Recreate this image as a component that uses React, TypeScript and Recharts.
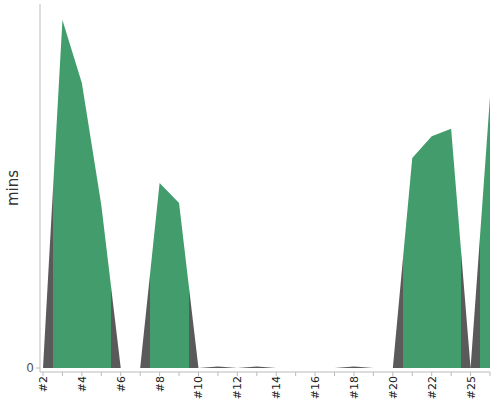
import { AreaChart, Area, XAxis, YAxis } from 'recharts';

const categories = ['#2', '#3', '#4', '#5', '#6', '#7', '#8', '#9', '#10', '#11', '#12', '#13', '#14', '#15', '#16', '#17', '#18', '#19', '#20', '#21', '#22', '#23', '#25', '#26'];
const mins = [0, 95.6, 78.3, 44.8, 0, 0, 50.8, 45.3, 0, 0.4, 0, 0.4, 0, 0, 0, 0, 0.4, 0, 0, 57.7, 63.7, 65.7, 0, 74.5];

const GREEN = '#439c6c';
const GREY = '#5a5a5a';
const FONT = '"DejaVu Sans", sans-serif';

const data = categories.map((name, i) => ({ name, mins: mins[i] }));

// hard colour stops half way between points: green where there are real minutes, grey otherwise
function gradientStops() {
  const n = mins.length - 1;
  const stops: { offset: number; color: string }[] = [];
  mins.forEach((v, i) => {
    const color = v >= 1 ? GREEN : GREY;
    stops.push({ offset: Math.max(0, (i - 0.5) / n), color });
    stops.push({ offset: Math.min(1, (i + 0.5) / n), color });
  });
  return stops;
}

function XTick(props: any) {
  const { x, y, payload, index } = props;
  if (index % 2 !== 0) return <g />;
  return (
    <text
      x={0}
      y={0}
      transform={`translate(${x + 4},${y - 2}) rotate(-90)`}
      textAnchor="end"
      fontSize={11}
      fill="#222"
      fontFamily={FONT}
    >
      {payload.value}
    </text>
  );
}

function YLabel(props: any) {
  const vb = props.viewBox || {};
  const cy = (vb.y ?? 0) + (vb.height ?? 0) / 2;
  return (
    <text
      x={0}
      y={0}
      transform={`translate(18,${cy}) rotate(-90)`}
      textAnchor="middle"
      fontSize={15}
      fill="#333"
      fontFamily={FONT}
    >
      mins
    </text>
  );
}

export default function App() {
  const stops = gradientStops();
  return (
    <div style={{ position: 'absolute', left: 0, top: 0, width: 500, height: 400, background: '#fff' }}>
      <AreaChart width={500} height={400} data={data} margin={{ top: 4, right: 10, bottom: 0, left: 0 }}>
        <defs>
          <linearGradient id="minsFill" x1="0" y1="0" x2="1" y2="0">
            {stops.map((s, i) => (
              <stop key={i} offset={s.offset} stopColor={s.color} />
            ))}
          </linearGradient>
        </defs>
        <XAxis
          dataKey="name"
          interval={0}
          height={28}
          padding={{ left: 3, right: 0 }}
          stroke="#bbb"
          tickSize={4}
          tick={<XTick />}
        />
        <YAxis
          width={40}
          domain={[0, 100]}
          ticks={[0]}
          padding={{ top: 0, bottom: 4 }}
          stroke="#bbb"
          tickSize={4}
          tick={{ fontSize: 12, fill: '#555', fontFamily: FONT }}
          label={<YLabel />}
        />
        <Area
          type="linear"
          dataKey="mins"
          stroke="none"
          fill="url(#minsFill)"
          fillOpacity={1}
          isAnimationActive={false}
        />
      </AreaChart>
    </div>
  );
}
